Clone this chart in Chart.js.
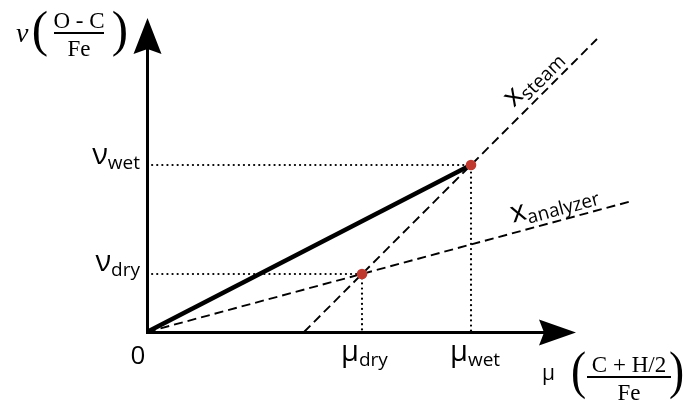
<!DOCTYPE html>
<html>
<head>
<meta charset="utf-8">
<script src="https://cdn.jsdelivr.net/npm/chart.js@4.4.1/dist/chart.umd.min.js"></script>
<style>
  html, body { margin: 0; padding: 0; background: #ffffff; }
  #wrap { width: 687px; height: 405px; position: relative; }
</style>
</head>
<body>
<div id="wrap"><canvas id="diagram"></canvas></div>
<script>
// Operating points: index 0 = dry, index 1 = wet
const pointNames = ['dry', 'wet'];
const muValues = [2.15, 3.24];   // μ (C + H/2) / Fe
const nuValues = [0.58, 1.67];   // ν (O - C) / Fe

// Reference lines (end points)
const steamLineX = [1.57, 4.50];
const steamLineY = [0.00, 2.93];
const analyzerLineX = [0.00, 4.85];
const analyzerLineY = [0.00, 1.31];

// Arrow tips of the two axes (x tip, y tip)
const axisTips = [4.29, 3.14];

const MAIN_FONT = '"Open Sans", "DejaVu Sans", sans-serif';
const SERIF_FONT = '"Liberation Serif", "DejaVu Serif", serif';
const INK = '#000000';
const DOT_RED = '#c0392f';
const MAIN_SIZE = 29;
const SUB_SIZE = 19;

function guidePoints(i) {
  return [
    { x: 0, y: nuValues[i] },
    { x: muValues[i], y: nuValues[i] },
    { x: muValues[i], y: 0 }
  ];
}

function toPoints(xs, ys) {
  return xs.map((x, i) => ({ x: x, y: ys[i] }));
}

// Text with a subscript; align refers to the whole group
function drawSub(ctx, main, sub, x, y, align, drop) {
  ctx.font = MAIN_SIZE + 'px ' + MAIN_FONT;
  const wMain = ctx.measureText(main).width;
  ctx.font = SUB_SIZE + 'px ' + MAIN_FONT;
  const wSub = ctx.measureText(sub).width;
  const total = wMain + wSub;
  let x0 = x;
  if (align === 'center') x0 = x - total / 2;
  else if (align === 'right') x0 = x - total;
  ctx.textAlign = 'left';
  ctx.textBaseline = 'alphabetic';
  ctx.font = MAIN_SIZE + 'px ' + MAIN_FONT;
  ctx.fillText(main, x0, y);
  ctx.font = SUB_SIZE + 'px ' + MAIN_FONT;
  ctx.fillText(sub, x0 + wMain, y + drop);
}

// Tall parenthesis fitted into the box left..left+width, top..bottom
function drawParen(ctx, ch, left, width, top, bottom) {
  ctx.save();
  ctx.font = '42px ' + SERIF_FONT;
  ctx.textAlign = 'left';
  ctx.textBaseline = 'alphabetic';
  const m = ctx.measureText(ch);
  const inkH = m.actualBoundingBoxAscent + m.actualBoundingBoxDescent;
  const inkW = m.actualBoundingBoxLeft + m.actualBoundingBoxRight;
  const sy = (bottom - top) / inkH;
  const sx = width / inkW;
  ctx.translate(left + m.actualBoundingBoxLeft * sx, top + m.actualBoundingBoxAscent * sy);
  ctx.scale(sx, sy);
  ctx.fillText(ch, 0, 0);
  ctx.restore();
}

function drawFraction(ctx, num, den, cx, barY, barHalf, size) {
  ctx.font = size + 'px ' + SERIF_FONT;
  ctx.textAlign = 'center';
  ctx.textBaseline = 'alphabetic';
  ctx.fillText(num, cx, barY - 5);
  ctx.fillText(den, cx, barY + 23);
  ctx.fillRect(cx - barHalf, barY - 1, barHalf * 2, 2);
}

function arrowHead(ctx, tipX, tipY, dx, dy, len, half, notch) {
  const px = -dy, py = dx;
  const bx = tipX - dx * len, by = tipY - dy * len;
  ctx.beginPath();
  ctx.moveTo(tipX, tipY);
  ctx.lineTo(bx + px * half, by + py * half);
  ctx.lineTo(bx + dx * notch, by + dy * notch);
  ctx.lineTo(bx - px * half, by - py * half);
  ctx.closePath();
  ctx.fill();
}

const axesPlugin = {
  id: 'axesArrows',
  beforeDatasetsDraw(chart) {
    const ctx = chart.ctx;
    const xs = chart.scales.x, ys = chart.scales.y;
    const ox = xs.getPixelForValue(0) + 0.5;
    const oy = ys.getPixelForValue(0) + 0.5;
    const tipX = xs.getPixelForValue(axisTips[0]);
    const tipY = ys.getPixelForValue(axisTips[1]);
    ctx.save();
    ctx.fillStyle = INK;
    ctx.strokeStyle = INK;
    ctx.lineWidth = 3;
    ctx.lineCap = 'square';
    ctx.beginPath();
    ctx.moveTo(ox, tipY + 30);
    ctx.lineTo(ox, oy);
    ctx.lineTo(tipX - 30, oy);
    ctx.stroke();
    arrowHead(ctx, tipX, oy, 1, 0, 37, 13, 5);
    arrowHead(ctx, ox, tipY, 0, -1, 36, 14, 5);
    ctx.restore();
  }
};

const labelsPlugin = {
  id: 'diagramLabels',
  afterDatasetsDraw(chart) {
    const ctx = chart.ctx;
    const xs = chart.scales.x, ys = chart.scales.y;
    const ox = xs.getPixelForValue(0);
    const oy = ys.getPixelForValue(0);
    ctx.save();
    ctx.fillStyle = INK;

    // value labels on both axes
    pointNames.forEach((name, i) => {
      const py = ys.getPixelForValue(nuValues[i]);
      drawSub(ctx, 'ν', name, ox - 7, py - 1 - (i === 0 ? 2 : 0), 'right', 5);
      const px = xs.getPixelForValue(muValues[i]);
      drawSub(ctx, 'μ', name, px - 21, oy + 29, 'left', 5);
    });

    // origin
    ctx.font = '26px ' + MAIN_FONT;
    ctx.textAlign = 'center';
    ctx.textBaseline = 'alphabetic';
    ctx.fillText('0', ox - 9, oy + 32);

    // labels riding on the dashed lines
    const lineLabel = (lx, ly, t, sub) => {
      const x0 = xs.getPixelForValue(lx[0]), y0 = ys.getPixelForValue(ly[0]);
      const x1 = xs.getPixelForValue(lx[1]), y1 = ys.getPixelForValue(ly[1]);
      const ang = Math.atan2(y1 - y0, x1 - x0);
      ctx.save();
      ctx.translate(x0 + (x1 - x0) * t, y0 + (y1 - y0) * t);
      ctx.rotate(ang);
      drawSub(ctx, 'x', sub, 0, -10, 'left', 5);
      ctx.restore();
    };
    lineLabel(steamLineX, steamLineY, 0.74, 'steam');
    lineLabel(analyzerLineX, analyzerLineY, 0.76, 'analyzer');

    // axis titles
    ctx.font = 'italic 28px ' + SERIF_FONT;
    ctx.textAlign = 'left';
    ctx.fillText('ν', 16, 42);
    drawParen(ctx, '(', 33, 14, 9, 58);
    drawFraction(ctx, 'O - C', 'Fe', 79, 33, 25, 23);
    drawParen(ctx, ')', 113, 14, 9, 58);

    ctx.font = '21px ' + MAIN_FONT;
    ctx.textAlign = 'left';
    ctx.fillText('μ', 542, 380);
    drawParen(ctx, '(', 572, 13, 350, 401);
    drawFraction(ctx, 'C + H/2', 'Fe', 629, 377, 42, 23);
    drawParen(ctx, ')', 670, 13, 350, 401);

    ctx.restore();
  }
};

const dashed = {
  showLine: true, borderColor: INK, borderWidth: 1.9, borderDash: [9, 5],
  pointRadius: 0, clip: false, fill: false
};
const dotted = {
  showLine: true, borderColor: INK, borderWidth: 2.2, borderDash: [0.1, 5],
  borderCapStyle: 'round', pointRadius: 0, clip: false, fill: false
};

// Chart.js paints the first dataset on top, so the red points come first
new Chart(document.getElementById('diagram'), {
  type: 'scatter',
  data: {
    datasets: [
      {
        label: 'points', data: toPoints(muValues, nuValues),
        showLine: false, pointRadius: 5.3, backgroundColor: DOT_RED, borderColor: DOT_RED,
        pointBackgroundColor: DOT_RED, pointBorderColor: DOT_RED, pointBorderWidth: 0, clip: false
      },
      {
        label: 'path', data: [{ x: 0, y: 0 }, { x: muValues[1], y: nuValues[1] }],
        showLine: true, borderColor: INK, borderWidth: 4.5, pointRadius: 0, clip: false
      },
      Object.assign({ label: 'x steam', data: toPoints(steamLineX, steamLineY) }, dashed),
      Object.assign({ label: 'x analyzer', data: toPoints(analyzerLineX, analyzerLineY) }, dashed),
      Object.assign({ label: 'guide dry', data: guidePoints(0) }, dotted),
      Object.assign({ label: 'guide wet', data: guidePoints(1) }, dotted)
    ]
  },
  options: {
    responsive: true,
    maintainAspectRatio: false,
    animation: false,
    layout: { padding: { left: 147, right: 40, top: 12, bottom: 73 } },
    plugins: { legend: { display: false }, tooltip: { enabled: false } },
    scales: {
      x: { type: 'linear', min: 0, max: 5, display: false },
      y: { type: 'linear', min: 0, max: 3.2, display: false }
    }
  },
  plugins: [axesPlugin, labelsPlugin]
});
</script>
</body>
</html>
